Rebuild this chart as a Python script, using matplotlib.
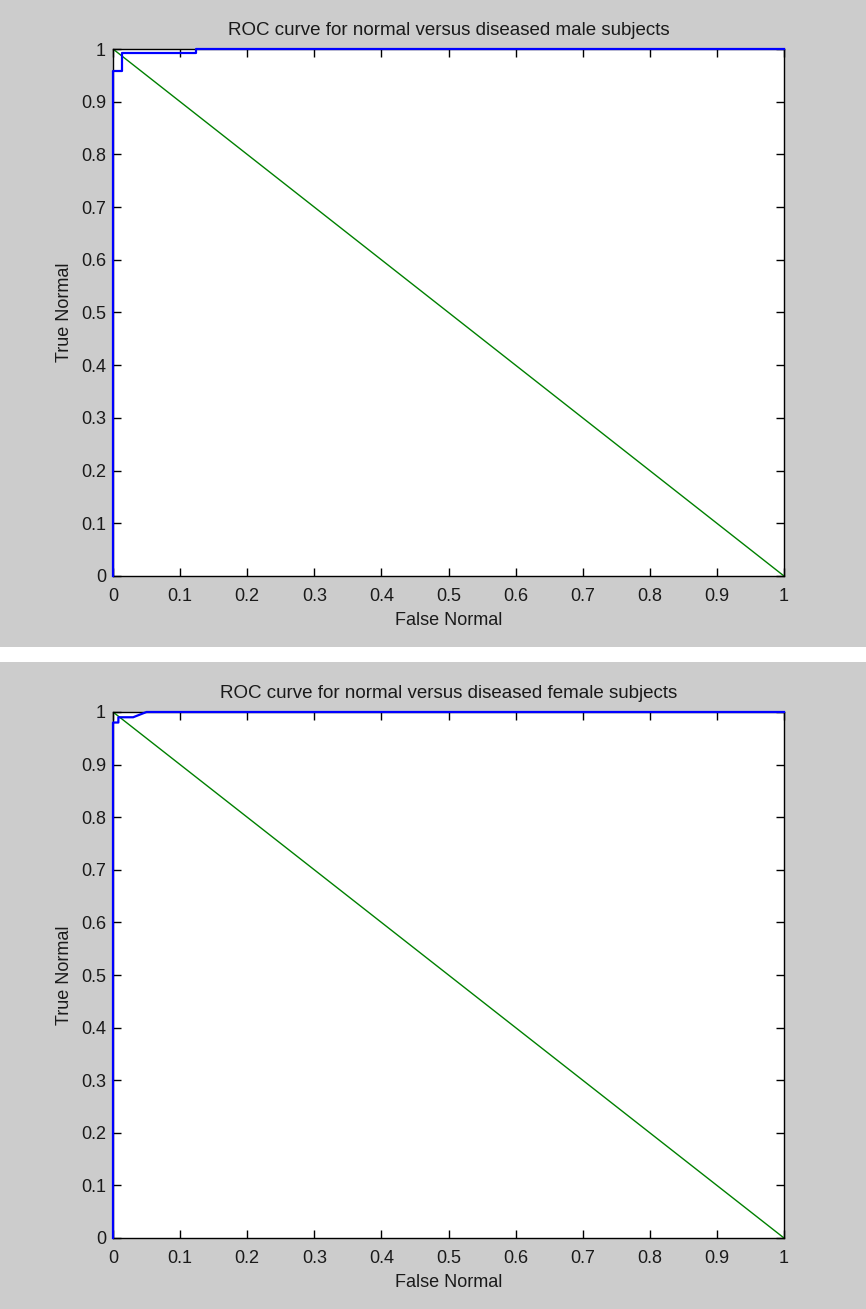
import matplotlib
matplotlib.use("Agg")
import matplotlib.pyplot as plt
from matplotlib.patches import Rectangle

plt.rcParams['font.family'] = ['Liberation Sans', 'DejaVu Sans']

titles = ["ROC curve for normal versus diseased male subjects",
          "ROC curve for normal versus diseased female subjects"]
xlabel = "False Normal"
ylabel = "True Normal"

male_fpr = [0.0, 0.0, 0.013, 0.013, 0.124, 0.124, 1.0]
male_tpr = [0.0, 0.958, 0.958, 0.992, 0.992, 1.0, 1.0]

female_fpr = [0.0, 0.0, 0.008, 0.008, 0.03, 0.05, 1.0]
female_tpr = [0.0, 0.98, 0.98, 0.99, 0.99, 1.0, 1.0]

chance_x = [0.0, 1.0]
chance_y = [1.0, 0.0]

ticks = [0, 0.1, 0.2, 0.3, 0.4, 0.5, 0.6, 0.7, 0.8, 0.9, 1]
tick_labels = ["0", "0.1", "0.2", "0.3", "0.4", "0.5", "0.6", "0.7", "0.8", "0.9", "1"]

W, H = 866, 1309
fig = plt.figure(figsize=(W/100, H/100), dpi=100, facecolor='white')
gray = '#cccccc'
fig.patches.append(Rectangle((0, 1 - 647/H), 1, 647/H, transform=fig.transFigure,
                             facecolor=gray, edgecolor='none', zorder=-10))
fig.patches.append(Rectangle((0, 0), 1, 1 - 662/H, transform=fig.transFigure,
                             facecolor=gray, edgecolor='none', zorder=-10))

panels = [(49, 576, male_fpr, male_tpr, titles[0]),
          (712, 1238, female_fpr, female_tpr, titles[1])]

fs = 13
for top, bot, fx, fy, title in panels:
    ax = fig.add_axes([113/W, 1 - bot/H, 671/W, (bot - top)/H])
    ax.set_facecolor('white')
    ax.plot(chance_x, chance_y, color=(0, 0.5, 0), lw=1.0, zorder=2)
    ax.plot(fx, fy, color=(0, 0, 1), lw=1.6, zorder=3, clip_on=False)
    ax.set_xlim(0, 1)
    ax.set_ylim(0, 1)
    ax.set_xticks(ticks)
    ax.set_xticklabels(tick_labels)
    ax.set_yticks(ticks)
    ax.set_yticklabels(tick_labels)
    ax.tick_params(direction='in', length=6, width=1, top=True, right=True,
                   labelsize=fs, colors='black', labelcolor='#1a1a1a', pad=5)
    ax.tick_params(axis='x', pad=8.5)
    for s in ax.spines.values():
        s.set_linewidth(1.0)
        s.set_color('black')
    ax.set_title(title, fontsize=13.5, color='#1a1a1a', pad=10)
    ax.set_xlabel(xlabel, fontsize=fs, color='#1a1a1a', labelpad=5)
    ax.set_ylabel(ylabel, fontsize=fs, color='#1a1a1a', labelpad=6)

fig.savefig("out.png", dpi=100, facecolor=fig.get_facecolor())
